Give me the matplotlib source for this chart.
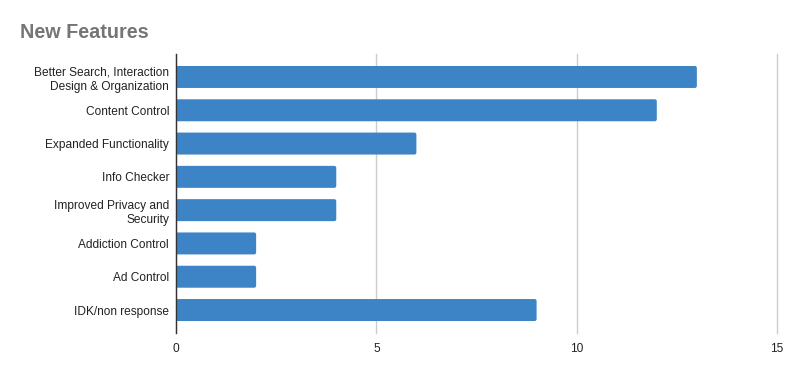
import matplotlib.pyplot as plt
from matplotlib.patches import FancyBboxPatch

plt.rcParams['font.family'] = ['Liberation Sans', 'DejaVu Sans']

features = ['Better Search, Interaction\nDesign & Organization', 'Content Control',
            'Expanded Functionality', 'Info Checker', 'Improved Privacy and\nSecurity',
            'Addiction Control', 'Ad Control', 'IDK/non response']
counts = [13, 12, 6, 4, 4, 2, 2, 9]
xticks = [0, 5, 10, 15]

fig = plt.figure(figsize=(7.96, 3.71), dpi=100)
ax = fig.add_axes([176 / 796, 38 / 371, 601 / 796, 279 / 371])

bar_h = 0.66
for i, c in enumerate(counts):
    ax.add_patch(FancyBboxPatch((0, i - bar_h / 2), c, bar_h,
                                boxstyle='round,pad=0,rounding_size=0.05',
                                mutation_aspect=1.2,
                                facecolor='#3d84c6', edgecolor='none', zorder=3))

ax.set_xlim(0, 15)
ax.set_ylim(7.69, -0.69)
ax.set_yticks(range(len(features)))
ax.set_yticklabels(features, fontsize=8.6, color='#222222', linespacing=1.25)
ax.set_xticks(xticks)
ax.set_xticklabels([str(t) for t in xticks], fontsize=8.6, color='#222222')
ax.tick_params(axis='y', length=0, pad=5)
ax.tick_params(axis='x', length=0, pad=7)

ax.grid(axis='x', color='#cccccc', linewidth=1, zorder=0)
for gl in ax.get_xgridlines():
    gl.set_clip_on(False)
for s in ['top', 'right', 'bottom']:
    ax.spines[s].set_visible(False)
ax.spines['left'].set_color('#333333')
ax.spines['left'].set_linewidth(1)
ax.spines['left'].set_zorder(4)

fig.text(20 / 796, 1 - 32 / 371, 'New Features', fontsize=14.2, fontweight='bold',
         color='#757575', va='center', ha='left')

fig.savefig('out.png', dpi=100)
